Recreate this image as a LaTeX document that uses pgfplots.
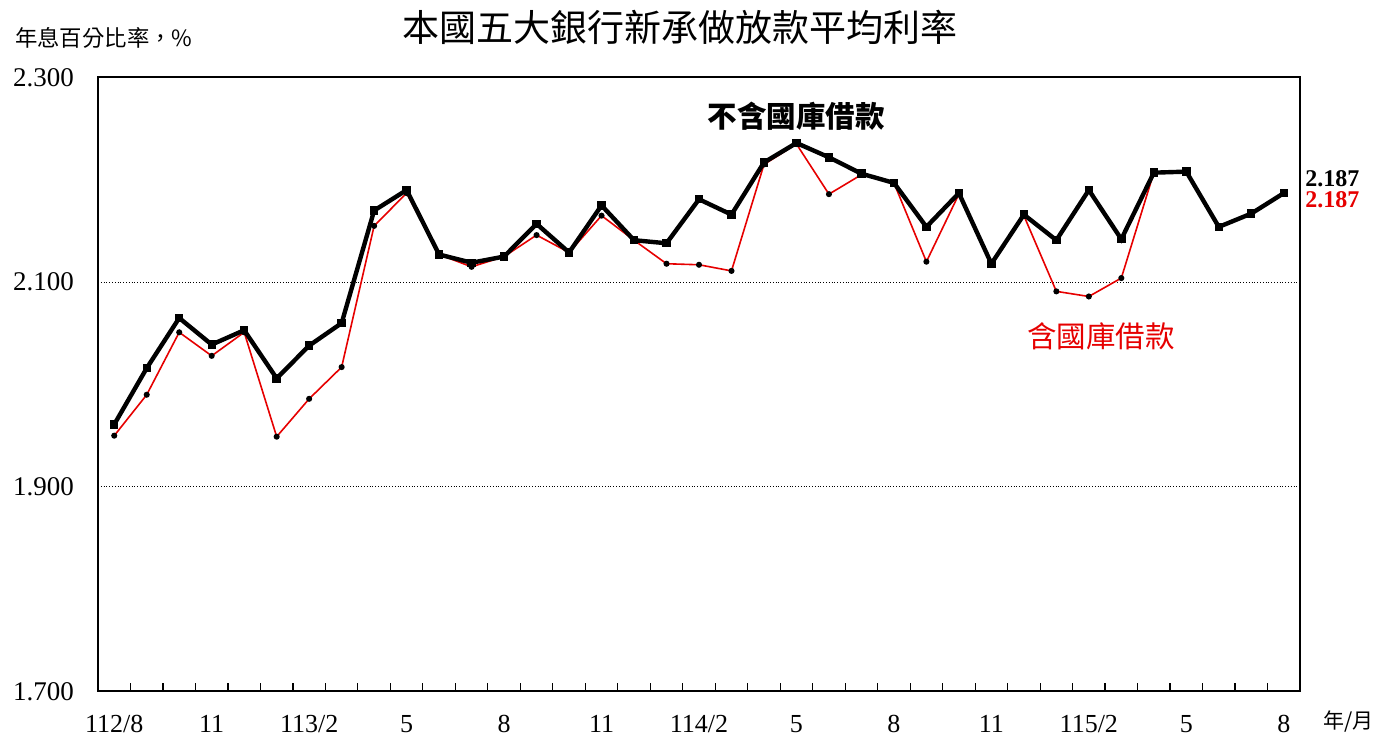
\documentclass[border=0pt]{standalone}
\usepackage{pgfplots}
\pgfplotsset{compat=1.18}
\usepackage{pgfplotstable}
\usepackage{fontspec}
\setmainfont{Liberation Serif}
\newfontfamily\cjk{Noto Sans CJK TC}
\definecolor{lnred}{RGB}{230,0,0}
\pgfplotstableread{
x black red
0 1.961 1.950
1 2.016 1.990
2 2.065 2.051
3 2.039 2.028
4 2.053 2.051
5 2.006 1.949
6 2.038 1.986
7 2.060 2.017
8 2.170 2.155
9 2.190 2.187
10 2.127 2.127
11 2.119 2.115
12 2.125 2.125
13 2.157 2.146
14 2.129 2.129
15 2.175 2.165
16 2.141 2.141
17 2.138 2.118
18 2.181 2.117
19 2.166 2.111
20 2.217 2.215
21 2.236 2.235
22 2.222 2.186
23 2.206 2.205
24 2.197 2.197
25 2.154 2.120
26 2.187 2.186
27 2.118 2.118
28 2.166 2.165
29 2.141 2.091
30 2.190 2.086
31 2.142 2.104
32 2.207 2.207
33 2.208 2.208
34 2.154 2.154
35 2.167 2.167
36 2.187 2.187
}\datatable
\begin{document}
\begin{tikzpicture}
\useasboundingbox (0,0) rectangle (690.5pt,373.5pt);
\begin{axis}[
  at={(49pt,27.75pt)}, anchor=south west,
  scale only axis, width=601pt, height=307pt,
  xmin=-0.5, xmax=36.5, ymin=1.7, ymax=2.3,
  xtick={0,3,...,36},
  xticklabels={112/8,11,113/2,5,8,11,114/2,5,8,11,115/2,5,8},
  minor xtick={0.5,1.5,...,35.5},
  ytick={1.7,1.9,2.1,2.3},
  major tick length=0pt, minor tick length=4pt,
  tick align=inside, xtick pos=bottom, ytick pos=left,
  tick style={black, line width=0.6pt},
  axis line style={black, line width=1pt},
  ymajorgrids, grid style={densely dotted, black, line width=0.6pt},
  /pgf/number format/assume math mode=true,
  yticklabel={\pgfmathprintnumber[fixed,fixed zerofill,precision=3]{\tick}},
  yticklabel style={font=\fontsize{13.5}{14}\selectfont, xshift=-8.5pt},
  xticklabel style={font=\fontsize{13}{14}\selectfont, yshift=-8.5pt},
  clip=false,
]
\addplot[lnred, line width=0.8pt, mark=*, mark size=1.1pt,
  mark options={black, fill=black}] table[x=x, y=red] {\datatable};
\addplot[black, line width=2.2pt, mark=square*, mark size=1.0pt,
  mark options={black, fill=black}] table[x=x, y=black] {\datatable};
\end{axis}
\node at (340pt,360pt) {\cjk\fontsize{18.5}{20}\selectfont 本國五大銀行新承做放款平均利率};
\node[anchor=west] at (4pt,354.5pt) {\cjk\fontsize{11.2}{12}\selectfont 年息百分比率，\%};
\node at (398pt,315.5pt) {\cjk\bfseries\fontsize{14.75}{16}\selectfont 不含國庫借款};
\node[text=lnred] at (550.5pt,205.5pt) {\cjk\fontsize{14.75}{16}\selectfont 含國庫借款};
\node[anchor=base west, inner sep=0pt] at (652.5pt,280pt) {\bfseries\fontsize{12}{13}\selectfont 2.187};
\node[anchor=base west, inner sep=0pt, text=lnred] at (652.5pt,269.5pt) {\bfseries\fontsize{12}{13}\selectfont 2.187};
\node[anchor=west] at (658pt,12.5pt) {\cjk\fontsize{10.5}{12}\selectfont 年/月};
\end{tikzpicture}
\end{document}
